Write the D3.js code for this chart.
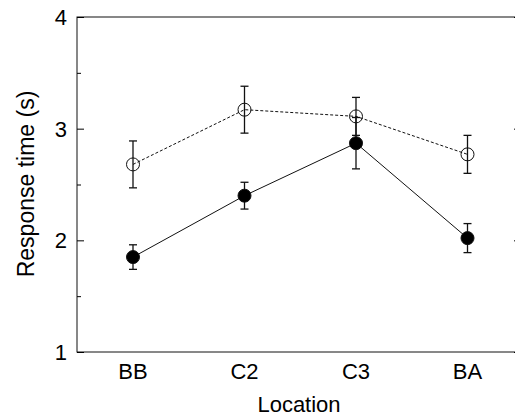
<!DOCTYPE html>
<html>
<head>
<meta charset="utf-8">
<script src="https://cdn.jsdelivr.net/npm/d3@7"></script>
<style>
  body { margin: 0; background: #fff; }
  text { font-family: Arial, "Liberation Sans", sans-serif; }
</style>
</head>
<body>
<div id="chart"></div>
<script>
   // data
   var locations = ["BB", "C2", "C3", "BA"];
   var openMean = [2.68, 3.17, 3.11, 2.77];
   var openErr = [0.21, 0.21, 0.17, 0.17];
   var filledMean = [1.85, 2.40, 2.87, 2.02];
   var filledErr = [0.11, 0.12, 0.23, 0.13];
   var yTicks = [1, 2, 3, 4];
   var yMinor = [1.5, 2.5, 3.5];

   var width = 515;
   var height = 416;

   var svg = d3.select("#chart")
       .append("svg")
       .attr("width", width)
       .attr("height", height);

   // plot frame (right edge falls just off the canvas)
   var frameL = 77, frameR = 518, frameT = 17, frameB = 352;

   var x = d3.scalePoint()
       .domain(locations)
       .range([133, 467.5]);

   var y = d3.scaleLinear()
       .domain([1, 4])
       .range([frameB, frameT]);

   // frame
   svg.append("rect")
       .attr("x", frameL)
       .attr("y", frameT)
       .attr("width", frameR - frameL)
       .attr("height", frameB - frameT)
       .attr("fill", "none")
       .attr("stroke", "#111")
       .attr("stroke-width", 1);

   // left axis, ticks point inward
   svg.append("g")
       .attr("transform", `translate(${frameL},0)`)
       .call(d3.axisRight(y).tickValues(yTicks).tickSize(7).tickFormat(""))
       .call(g => g.select(".domain").remove());

   svg.append("g")
       .attr("transform", `translate(${frameL},0)`)
       .call(d3.axisRight(y).tickValues(yMinor).tickSize(4).tickFormat(""))
       .call(g => g.select(".domain").remove());

   // right axis ticks
   svg.append("g")
       .attr("transform", `translate(${frameR},0)`)
       .call(d3.axisLeft(y).tickValues(yTicks).tickSize(4).tickFormat(""))
       .call(g => g.select(".domain").remove());

   // y tick labels
   svg.append("g")
       .selectAll("text")
       .data(yTicks)
       .join("text")
       .attr("x", 67)
       .attr("y", d => y(d))
       .attr("dy", "0.36em")
       .attr("text-anchor", "end")
       .attr("font-size", 22)
       .text(d => d);

   // x tick labels
   svg.append("g")
       .selectAll("text")
       .data(locations)
       .join("text")
       .attr("x", d => x(d))
       .attr("y", 379)
       .attr("text-anchor", "middle")
       .attr("font-size", 22)
       .text(d => d);

   // axis titles
   svg.append("text")
       .attr("x", 299)
       .attr("y", 412)
       .attr("text-anchor", "middle")
       .attr("font-size", 22)
       .text("Location");

   svg.append("text")
       .attr("transform", "translate(34,184) rotate(-90)")
       .attr("text-anchor", "middle")
       .attr("font-size", 23)
       .text("Response time (s)");

   var line = d3.line()
       .x((d, i) => x(locations[i]))
       .y(d => y(d));

   function drawSeries(means, errs, filled, dashed) {
       var g = svg.append("g");

       g.append("path")
           .datum(means)
           .attr("d", line)
           .attr("fill", "none")
           .attr("stroke", "#111")
           .attr("stroke-width", 1)
           .attr("stroke-dasharray", dashed ? "3,2" : null);

       var bars = g.selectAll(".err")
           .data(means)
           .join("g")
           .attr("class", "err");

       bars.append("line")
           .attr("x1", (d, i) => x(locations[i]))
           .attr("x2", (d, i) => x(locations[i]))
           .attr("y1", (d, i) => y(d + errs[i]))
           .attr("y2", (d, i) => y(d - errs[i]))
           .attr("stroke", "#111")
           .attr("stroke-width", 1.3);

       [1, -1].forEach(function (s) {
           bars.append("line")
               .attr("x1", (d, i) => x(locations[i]) - 4)
               .attr("x2", (d, i) => x(locations[i]) + 4)
               .attr("y1", (d, i) => y(d + s * errs[i]))
               .attr("y2", (d, i) => y(d + s * errs[i]))
               .attr("stroke", "#111")
               .attr("stroke-width", 1.3);
       });

       g.selectAll("circle")
           .data(means)
           .join("circle")
           .attr("cx", (d, i) => x(locations[i]))
           .attr("cy", d => y(d))
           .attr("r", 6.5)
           .attr("fill", filled ? "#000" : "none")
           .attr("stroke", "#111")
           .attr("stroke-width", 1);
   }

   drawSeries(openMean, openErr, false, true);
   drawSeries(filledMean, filledErr, true, false);
</script>
</body>
</html>
